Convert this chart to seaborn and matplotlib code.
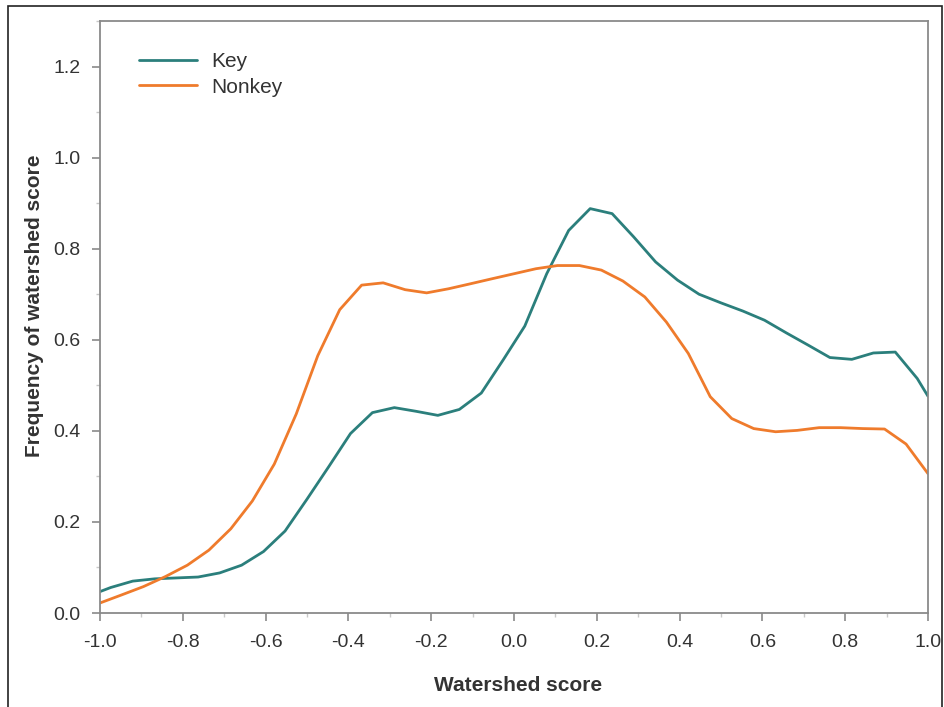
import numpy as np
import pandas as pd
import matplotlib
matplotlib.use("Agg")
import matplotlib.pyplot as plt
from matplotlib.patches import Rectangle
from matplotlib.ticker import MultipleLocator
import seaborn as sns

# ---- data ----
key_x = [-1.0, -0.974, -0.921, -0.868, -0.816, -0.763, -0.711, -0.658, -0.605, -0.553,
         -0.500, -0.447, -0.395, -0.342, -0.289, -0.237, -0.184, -0.132, -0.079, -0.026,
         0.026, 0.079, 0.132, 0.184, 0.237, 0.289, 0.342, 0.395, 0.447, 0.500,
         0.553, 0.605, 0.658, 0.711, 0.763, 0.816, 0.868, 0.921, 0.974, 1.0]
key_y = [0.047, 0.056, 0.070, 0.075, 0.077, 0.079, 0.088, 0.105, 0.135, 0.180,
         0.250, 0.322, 0.394, 0.440, 0.451, 0.443, 0.434, 0.447, 0.483, 0.556,
         0.630, 0.745, 0.840, 0.888, 0.877, 0.826, 0.771, 0.731, 0.700, 0.681,
         0.663, 0.643, 0.615, 0.588, 0.561, 0.557, 0.571, 0.573, 0.515, 0.476]

nonkey_x = [-1.0, -0.947, -0.895, -0.842, -0.789, -0.737, -0.684, -0.632, -0.579, -0.526,
            -0.474, -0.421, -0.368, -0.316, -0.263, -0.211, -0.158, -0.105, -0.053, 0.0,
            0.053, 0.105, 0.158, 0.211, 0.263, 0.316, 0.368, 0.421, 0.474, 0.526,
            0.579, 0.632, 0.684, 0.737, 0.789, 0.842, 0.895, 0.947, 1.0]
nonkey_y = [0.022, 0.040, 0.058, 0.080, 0.105, 0.138, 0.185, 0.246, 0.327, 0.437,
            0.565, 0.666, 0.720, 0.725, 0.710, 0.703, 0.712, 0.723, 0.734, 0.745,
            0.756, 0.763, 0.763, 0.753, 0.729, 0.694, 0.639, 0.570, 0.475, 0.427,
            0.405, 0.398, 0.401, 0.407, 0.407, 0.405, 0.404, 0.371, 0.306]

series_names = ["Key", "Nonkey"]
x_ticks = [-1.0, -0.8, -0.6, -0.4, -0.2, 0.0, 0.2, 0.4, 0.6, 0.8, 1.0]
y_ticks = [0.0, 0.2, 0.4, 0.6, 0.8, 1.0, 1.2]

df = pd.concat([
    pd.DataFrame({"score": key_x, "freq": key_y, "group": series_names[0]}),
    pd.DataFrame({"score": nonkey_x, "freq": nonkey_y, "group": series_names[1]}),
], ignore_index=True)

# ---- styling ----
sns.set_theme(style="ticks")
plt.rcParams["font.family"] = ["Liberation Sans", "DejaVu Sans"]

spine_col = "#8a8a8a"
text_col = "#333333"
palette = {"Key": "#2b7f7c", "Nonkey": "#ef7b2c"}

fig = plt.figure(figsize=(9.45, 7.07), dpi=100)
ax = fig.add_axes([100 / 945, 1 - 613 / 707, (928 - 100) / 945, (613 - 21) / 707])

sns.lineplot(data=df, x="score", y="freq", hue="group", palette=palette,
             linewidth=2.0, ax=ax, sort=True, estimator=None)

ax.set_xlim(-1.0, 1.0)
ax.set_ylim(0.0, 1.3)
ax.set_xticks(x_ticks)
ax.set_xticklabels([f"{v:.1f}" for v in x_ticks])
ax.set_yticks(y_ticks)
ax.set_yticklabels([f"{v:.1f}" for v in y_ticks])
ax.xaxis.set_minor_locator(MultipleLocator(0.1))
ax.yaxis.set_minor_locator(MultipleLocator(0.1))

for s in ax.spines.values():
    s.set_color(spine_col)
    s.set_linewidth(1.3)
    s.set_visible(True)

ax.tick_params(axis="both", which="major", direction="out", length=6, width=1.2,
               color=spine_col, labelsize=14, labelcolor=text_col)
ax.tick_params(axis="x", which="major", pad=9)
ax.tick_params(axis="y", which="major", pad=8)
ax.tick_params(axis="both", which="minor", direction="out", length=3, width=1.0,
               color="#c8c8c8")

ax.set_xlabel("Watershed score", fontsize=15, fontweight="bold", color=text_col)
ax.set_ylabel("Frequency of watershed score", fontsize=15, fontweight="bold",
              color=text_col)
ax.xaxis.set_label_coords((518 - 100) / 828, (613 - 676) / 592)
ax.yaxis.set_label_coords((44 - 100) / 828, (613 - 306) / 592)

leg = ax.legend(loc="upper left", bbox_to_anchor=(0.025, 0.979), frameon=False,
                fontsize=15, handlelength=2.75, handletextpad=0.7, labelspacing=0.31)
for t in leg.get_texts():
    t.set_color(text_col)
for h in leg.get_lines():
    h.set_linewidth(2.0)

# outer frame of the figure
fig.patches.append(Rectangle((8 / 945, -0.02), (942 - 8) / 945, 1.02 - 6 / 707,
                             transform=fig.transFigure, fill=False,
                             edgecolor="#222222", linewidth=1.2))

fig.savefig("out.png", dpi=100)
